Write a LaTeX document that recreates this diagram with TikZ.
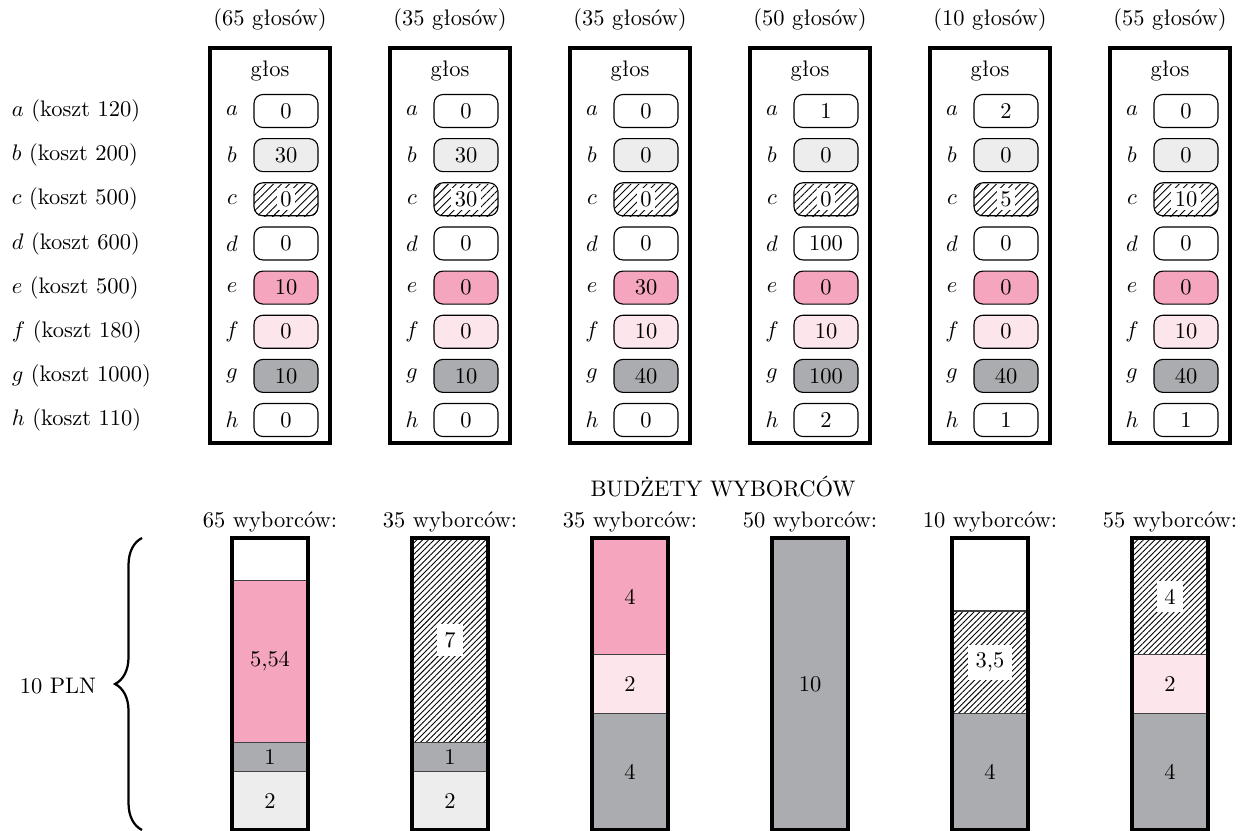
\documentclass[tikz,border=0pt]{standalone}
\usepackage{fontspec}
\usepackage{tikz}
\usetikzlibrary{patterns.meta,decorations.pathreplacing}
\definecolor{pinkv}{RGB}{245,166,190}
\definecolor{lpink}{RGB}{253,229,236}
\definecolor{grayv}{RGB}{171,172,175}
\definecolor{lgr}{RGB}{237,237,237}

\begin{document}
\begin{tikzpicture}[x=0.445pt, y=-0.445pt,
  frame/.style={line width=1.8pt},
  cell/.style={rounded corners=4pt, line width=0.5pt},
  seg/.style={line width=0.5pt, draw=black!75},
  hatch/.style={pattern={Lines[angle=45, distance=1.8pt, line width=0.4pt]}},
  chatch/.style={pattern={Lines[angle=45, distance=2.5pt, line width=0.4pt]}},
  lab/.style={inner sep=3.5pt, fill=white}]
\useasboundingbox (0,0) rectangle (1246,831);

% projects and costs
\foreach \p/\c [count=\k] in {a/120, b/200, c/500, d/600, e/500, f/180, g/1000, h/110}
  \node[anchor=west] (cost\p) at (4,{111+44.15*(\k-1)}) {$\p$ (koszt \c)};

% votes of each group
\foreach \i/\n/\va/\vb/\vc/\vd/\ve/\vf/\vg/\vh in {1/65/0/30/0/0/10/0/10/0, 2/35/0/30/30/0/0/0/10/0,
    3/35/0/0/0/0/30/10/40/0, 4/50/1/0/0/100/0/10/100/2, 5/10/2/0/5/0/0/0/40/1, 6/55/0/0/10/0/0/10/40/1} {
  \pgfmathsetmacro\X{90+180*\i}
  \node (head\i) at (\X,20) {(\n~głosów)};
  \draw[frame] (\X-60,48) rectangle (\X+60,443);
  \node (glos\i) at (\X,71) {głos};
  \foreach \p/\v/\col [count=\k] in {a/\va/white, b/\vb/lgr, c/\vc/white, d/\vd/white,
      e/\ve/pinkv, f/\vf/lpink, g/\vg/grayv, h/\vh/white} {
    \pgfmathsetmacro\Y{111+44.15*(\k-1)}
    \node (l\p\i) at (\X-38,\Y) {$\p$};
    \draw[cell, fill=\col] (\X-16,\Y-16.5) rectangle (\X+48,\Y+16.5);
    \node[inner sep=1pt] (v\p\i) at (\X+16,\Y) {\v};
  }
  \fill[cell, chatch] (\X-16,183.8) rectangle (\X+48,216.8);
  \node[inner sep=1.5pt, fill=white] at (vc\i) {\vc};
}

% budgets
\node (title) at (723,487) {BUDŻETY WYBORCÓW};
\foreach \i/\n in {1/65, 2/35, 3/35, 4/50, 5/10, 6/55}
  \node (grp\i) at ({90+180*\i},522) {\n~wyborców:};

% 65 voters
\draw[seg, fill=lgr] (232,830) rectangle (308,771.6);
\draw[seg, fill=grayv] (232,771.6) rectangle (308,742.4);
\draw[seg, fill=pinkv] (232,742.4) rectangle (308,580.6);
\node (s1b) at (270,800.8) {2};
\node (s1g) at (270,757) {1};
\node (s1e) at (270,661.5) {5,54};
% 35 voters
\draw[seg, fill=lgr] (412,830) rectangle (488,771.6);
\draw[seg, fill=grayv] (412,771.6) rectangle (488,742.4);
\draw[seg, hatch] (412,742.4) rectangle (488,538);
\node (s2b) at (450,800.8) {2};
\node (s2g) at (450,757) {1};
\node[lab] (s2c) at (450,640.2) {7};
% 35 voters
\draw[seg, fill=grayv] (592,830) rectangle (668,713.2);
\draw[seg, fill=lpink] (592,713.2) rectangle (668,654.8);
\draw[seg, fill=pinkv] (592,654.8) rectangle (668,538);
\node (s3g) at (630,771.6) {4};
\node (s3f) at (630,684) {2};
\node (s3e) at (630,596.4) {4};
% 50 voters
\draw[seg, fill=grayv] (772,830) rectangle (848,538);
\node (s4g) at (810,684) {10};
% 10 voters
\draw[seg, fill=grayv] (952,830) rectangle (1028,713.2);
\draw[seg, hatch] (952,713.2) rectangle (1028,611);
\node (s5g) at (990,771.6) {4};
\node[lab] (s5c) at (990,662.1) {3,5};
% 55 voters
\draw[seg, fill=grayv] (1132,830) rectangle (1208,713.2);
\draw[seg, fill=lpink] (1132,713.2) rectangle (1208,654.8);
\draw[seg, hatch] (1132,654.8) rectangle (1208,538);
\node (s6g) at (1170,771.6) {4};
\node (s6f) at (1170,684) {2};
\node[lab] (s6c) at (1170,596.4) {4};

\foreach \i in {1,...,6}
  \draw[frame] ({90+180*\i-38},830) rectangle ({90+180*\i+38},538);

% whole budget
\draw[line width=1pt, decorate, decoration={brace, amplitude=12pt}] (142,830) -- (142,538);
\node (pln) at (58,686) {10 PLN};
\end{tikzpicture}
\end{document}
